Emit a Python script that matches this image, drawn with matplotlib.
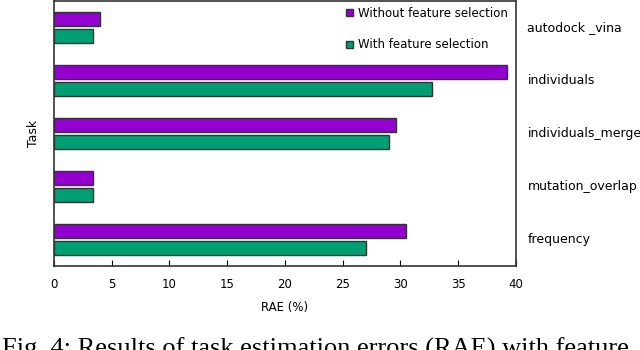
import matplotlib
matplotlib.use("Agg")
import matplotlib.pyplot as plt
import numpy as np

tasks = ["frequency", "mutation_overlap", "individuals_merge", "individuals", "autodock _vina"]
without_fs = [30.5, 3.4, 29.6, 39.2, 4.0]
with_fs = [27.0, 3.4, 29.0, 32.7, 3.4]
xticks = [0, 5, 10, 15, 20, 25, 30, 35, 40]
caption = "Fig. 4: Results of task estimation errors (RAE) with feature"

purple = "#9400d0"
green = "#009e73"


def plot_rae():
    fig = plt.figure(figsize=(6.4, 3.5), dpi=100)
    ax = fig.add_axes([0.084, 0.24, 0.722, 0.758])

    y = np.arange(len(tasks))
    h = 0.27
    off = 0.16
    ax.barh(y + off, without_fs, height=h, color=purple, edgecolor="#333333",
            linewidth=1.0, label="Without feature selection")
    ax.barh(y - off, with_fs, height=h, color=green, edgecolor="#333333",
            linewidth=1.0, label="With feature selection")

    ax.set_xlim(0, 40)
    ax.set_ylim(-0.5, 4.5)
    ax.set_xticks(xticks)
    ax.set_xticklabels([str(t) for t in xticks], fontsize=8.5)
    ax.tick_params(axis="x", direction="in", length=4, pad=9)
    ax.set_yticks([])
    for s in ax.spines.values():
        s.set_color("#333333")
        s.set_linewidth(1.2)

    for yi, name in zip(y, tasks):
        ax.text(1.025, (yi + 0.5) / 5, name, transform=ax.transAxes,
                ha="left", va="center", fontsize=9)

    ax.set_xlabel("RAE (%)", fontsize=8.5, labelpad=7)
    ax.set_ylabel("Task", fontsize=9, labelpad=10)

    ax.legend(loc="upper right", frameon=False, fontsize=8.5,
              handlelength=0.6, handleheight=0.6, labelspacing=1.6,
              handletextpad=0.4, borderaxespad=0.1, bbox_to_anchor=(0.995, 1.0))

    # caption of the source figure, cut off at the bottom edge
    fig.text(0.003, -0.015, caption, family="Liberation Serif", fontsize=19,
             va="baseline", ha="left")

    fig.savefig("out.png", dpi=100)


if __name__ == "__main__":
    plot_rae()
